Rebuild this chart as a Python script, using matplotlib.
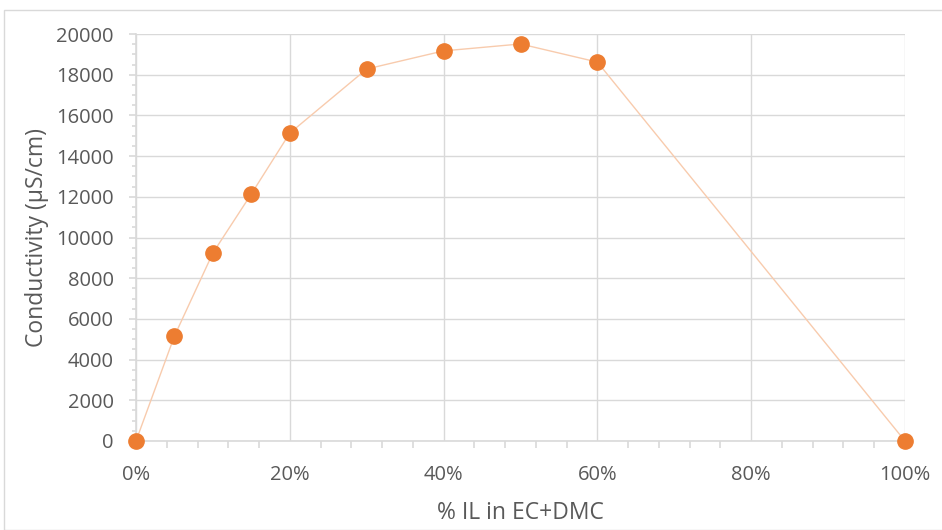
import matplotlib
matplotlib.use("Agg")
import matplotlib.pyplot as plt
from matplotlib.ticker import MultipleLocator, PercentFormatter
from matplotlib.patches import Rectangle

il_fraction = [0.0, 0.05, 0.10, 0.15, 0.20, 0.30, 0.40, 0.50, 0.60, 1.00]
conductivity = [0, 5160, 9240, 12140, 15130, 18280, 19170, 19510, 18620, 0]

plt.rcParams['font.family'] = ['Open Sans', 'DejaVu Sans']
text_color = '#595959'
grid_color = '#D9D9D9'

fig = plt.figure(figsize=(9.42, 5.30), dpi=100)
ax = fig.add_axes([136/942, 1-441/530, (905-136)/942, (441-34)/530])

fig.patches.append(Rectangle((4/942, 0), 1.0, 1-10/530, transform=fig.transFigure,
                             fill=False, edgecolor='#D9D9D9', linewidth=1.0))

ax.plot(il_fraction, conductivity, color='#F8CBAD', linewidth=1.0, zorder=3,
        marker='o', markersize=11, markerfacecolor='#ED7D31', markeredgecolor='#ED7D31',
        clip_on=False)

ax.set_xlim(0, 1)
ax.set_ylim(0, 20000)
ax.xaxis.set_major_locator(MultipleLocator(0.2))
ax.xaxis.set_minor_locator(MultipleLocator(0.04))
ax.xaxis.set_major_formatter(PercentFormatter(1.0, decimals=0))
ax.yaxis.set_major_locator(MultipleLocator(2000))
ax.yaxis.set_minor_locator(MultipleLocator(500))

ax.grid(True, which='major', color=grid_color, linewidth=1.0, zorder=0)
ax.set_axisbelow(True)
for s in ['top', 'right']:
    ax.spines[s].set_visible(False)
ax.spines['left'].set_color(grid_color)
ax.spines['bottom'].set_color(grid_color)
ax.spines['left'].set_linewidth(1.2)
ax.spines['bottom'].set_linewidth(1.2)

ax.tick_params(axis='x', which='major', length=0, pad=17, labelsize=14.5, labelcolor=text_color)
ax.tick_params(axis='x', which='minor', length=5, color=grid_color, width=1.2)
ax.tick_params(axis='y', which='major', length=5, color=grid_color, width=1.2, pad=11,
               labelsize=14.5, labelcolor=text_color)
ax.tick_params(axis='y', which='minor', length=3, color=grid_color, width=1.2)

ax.set_xlabel('% IL in EC+DMC', fontsize=16.5, color=text_color, labelpad=12)
ax.set_ylabel('Conductivity (µS/cm)', fontsize=16.5, color=text_color, labelpad=5)

fig.savefig('out.png', dpi=100)
